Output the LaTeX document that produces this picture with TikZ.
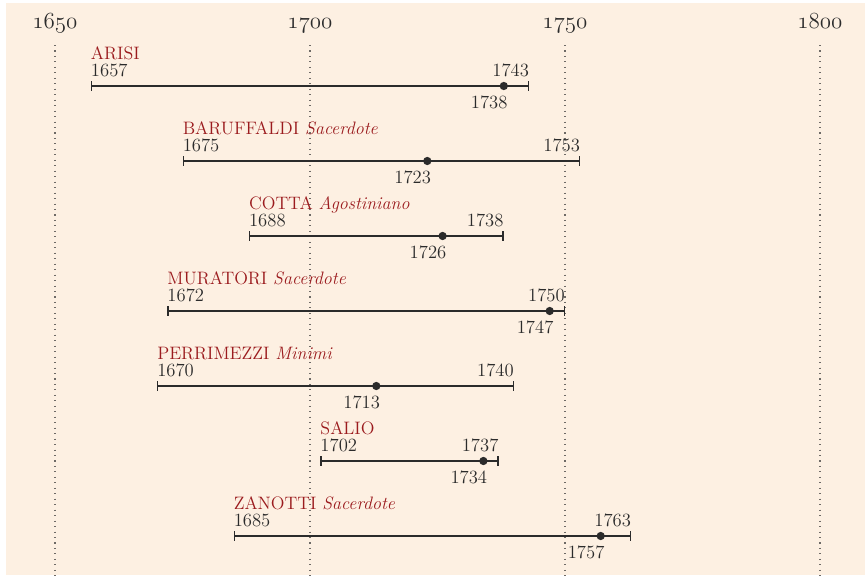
\documentclass[tikz,border=0pt]{standalone}
\usepackage{tikz}
\usepackage{xcolor}
\usetikzlibrary{arrows.meta,positioning,calc}
\definecolor{paper}{HTML}{FDF0E2}
\definecolor{namered}{HTML}{9B1B1E}
\definecolor{ink}{HTML}{2B2B2B}
\definecolor{gridgray}{HTML}{6E6A66}
\newcommand{\axisyear}[1]{{\fontencoding{OML}\fontfamily{cmm}\fontseries{m}\fontshape{it}\fontsize{16}{18}\selectfont #1}}

\begin{document}
\begin{tikzpicture}[x=0.75pt,y=-0.75pt,
        every node/.style={font=\fontsize{14}{16}\selectfont,text=ink,inner sep=0pt},
        yearaxis/.style={anchor=base},
        who/.style={anchor=base west,text=namered,font=\fontsize{13.5}{15}\selectfont},
        born/.style={anchor=base west},
        died/.style={anchor=base east},
        work/.style={anchor=base east},
        life/.style={draw=ink,line width=1.1pt,{Bar[width=7pt]}-{Bar[width=7pt]}},
        deed/.style={circle,fill=ink,minimum size=6.2pt},
        gridline/.style={draw=gridgray,line width=0.8pt,dash pattern=on 0.8pt off 3.3pt}]
        \useasboundingbox (0,0) rectangle (865,578);
        \fill[paper] (6,3) rectangle (865,575);
        % time axis
        \node[yearaxis] (y1650) at (55,28) {\axisyear{1650}};
        \node[yearaxis] (y1700) at (310,28) {\axisyear{1700}};
        \node[yearaxis] (y1750) at (565,28) {\axisyear{1750}};
        \node[yearaxis] (y1800) at (820,28) {\axisyear{1800}};
        \coordinate (g1650a) at (55,45); \coordinate (g1650b) at (55,576);
        \coordinate (g1700a) at (310,45); \coordinate (g1700b) at (310,576);
        \coordinate (g1750a) at (565,45); \coordinate (g1750b) at (565,576);
        \coordinate (g1800a) at (820,45); \coordinate (g1800b) at (820,576);
        \draw[gridline] (g1650a) -- (g1650b);
        \draw[gridline] (g1700a) -- (g1700b);
        \draw[gridline] (g1750a) -- (g1750b);
        \draw[gridline] (g1800a) -- (g1800b);
        % ARISI
        \node[who] (arisi) at (90.7,59) {ARISI};
        \node[born] (arisiB) at (90.7,76) {1657};
        \node[died] (arisiD) at (529.3,76) {1743};
        \coordinate (arisiS) at (90.7,86); \coordinate (arisiE) at (529.3,86);
        \draw[life] (arisiS) -- (arisiE);
        \node[deed] (arisiM) at (503.8,86) {};
        \node[work] (arisiW) at (507.8,108) {1738};
        % BARUFFALDI
        \node[who] (baruffaldi) at (182.5,134) {BARUFFALDI \textit{Sacerdote}};
        \node[born] (baruffaldiB) at (182.5,151) {1675};
        \node[died] (baruffaldiD) at (580.3,151) {1753};
        \coordinate (baruffaldiS) at (182.5,161); \coordinate (baruffaldiE) at (580.3,161);
        \draw[life] (baruffaldiS) -- (baruffaldiE);
        \node[deed] (baruffaldiM) at (427.3,161) {};
        \node[work] (baruffaldiW) at (431.3,183) {1723};
        % COTTA
        \node[who] (cotta) at (248.8,209) {COTTA \textit{Agostiniano}};
        \node[born] (cottaB) at (248.8,226) {1688};
        \node[died] (cottaD) at (503.8,226) {1738};
        \coordinate (cottaS) at (248.8,236); \coordinate (cottaE) at (503.8,236);
        \draw[life] (cottaS) -- (cottaE);
        \node[deed] (cottaM) at (442.6,236) {};
        \node[work] (cottaW) at (446.6,258) {1726};
        % MURATORI
        \node[who] (muratori) at (167.2,284) {MURATORI \textit{Sacerdote}};
        \node[born] (muratoriB) at (167.2,301) {1672};
        \node[died] (muratoriD) at (565,301) {1750};
        \coordinate (muratoriS) at (167.2,311); \coordinate (muratoriE) at (565,311);
        \draw[life] (muratoriS) -- (muratoriE);
        \node[deed] (muratoriM) at (549.7,311) {};
        \node[work] (muratoriW) at (553.7,333) {1747};
        % PERRIMEZZI
        \node[who] (perrimezzi) at (157,359) {PERRIMEZZI \textit{Minimi}};
        \node[born] (perrimezziB) at (157,376) {1670};
        \node[died] (perrimezziD) at (514,376) {1740};
        \coordinate (perrimezziS) at (157,386); \coordinate (perrimezziE) at (514,386);
        \draw[life] (perrimezziS) -- (perrimezziE);
        \node[deed] (perrimezziM) at (376.3,386) {};
        \node[work] (perrimezziW) at (380.3,408) {1713};
        % SALIO
        \node[who] (salio) at (320.2,434) {SALIO};
        \node[born] (salioB) at (320.2,451) {1702};
        \node[died] (salioD) at (498.7,451) {1737};
        \coordinate (salioS) at (320.2,461); \coordinate (salioE) at (498.7,461);
        \draw[life] (salioS) -- (salioE);
        \node[deed] (salioM) at (483.4,461) {};
        \node[work] (salioW) at (487.4,483) {1734};
        % ZANOTTI
        \node[who] (zanotti) at (233.5,509) {ZANOTTI \textit{Sacerdote}};
        \node[born] (zanottiB) at (233.5,526) {1685};
        \node[died] (zanottiD) at (631.3,526) {1763};
        \coordinate (zanottiS) at (233.5,536); \coordinate (zanottiE) at (631.3,536);
        \draw[life] (zanottiS) -- (zanottiE);
        \node[deed] (zanottiM) at (600.7,536) {};
        \node[work] (zanottiW) at (604.7,558) {1757};
    \end{tikzpicture}
\end{document}
